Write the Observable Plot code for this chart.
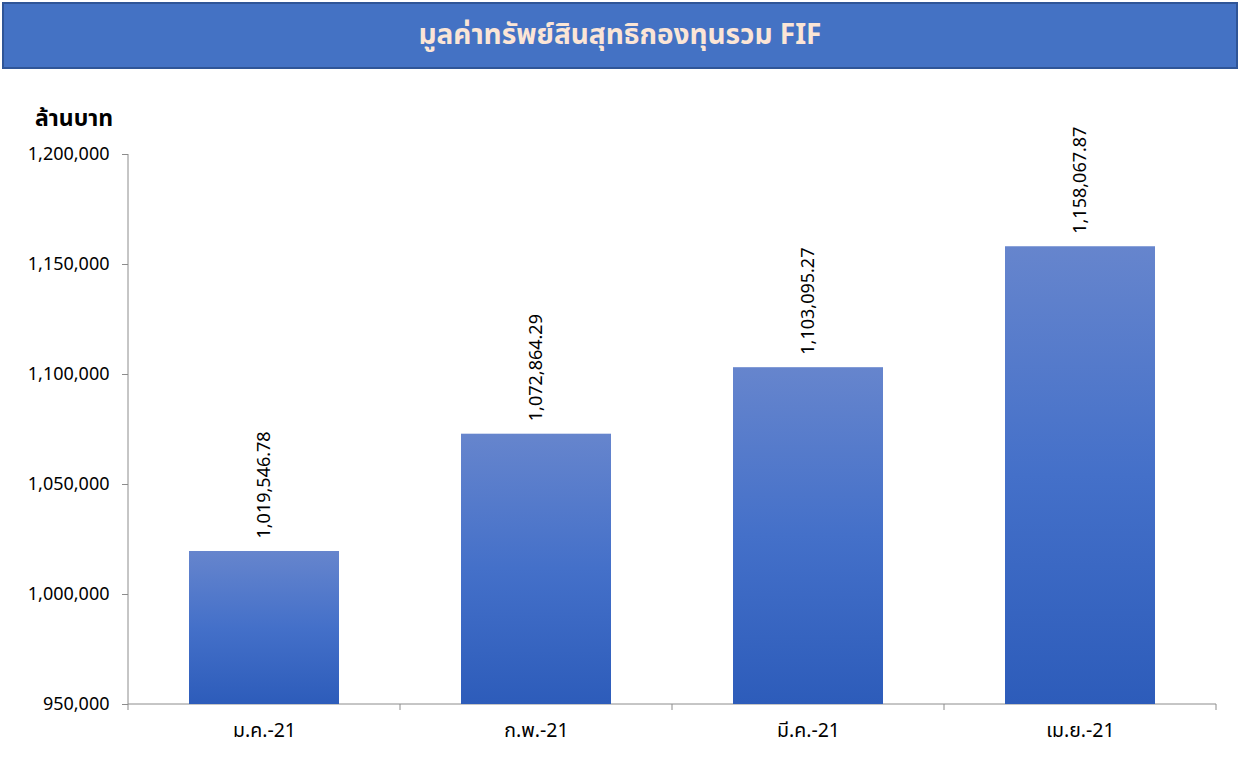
<!DOCTYPE html>
<html>
<head>
<meta charset="utf-8">
<script src="https://cdn.jsdelivr.net/npm/d3@7"></script>
<script src="https://cdn.jsdelivr.net/npm/@observablehq/plot@0.6"></script>
<style>
  html, body { margin: 0; padding: 0; background: #fff; }
  #wrap { position: relative; width: 1240px; height: 758px; font-family: Tahoma, "Noto Sans", "Noto Sans Thai", sans-serif; }
  #banner { position: absolute; left: 2px; top: 2px; width: 1232px; height: 63px; background: #4472C4; border: 2px solid #2F5597;
            color: #FBE5D6; font-weight: bold; font-size: 28px; display: flex; align-items: center; justify-content: center; }
  #unit { position: absolute; left: 35px; top: 101px; font-weight: bold; font-size: 23px; color: #000; }
  #chart { position: absolute; left: 0; top: 0; }
</style>
</head>
<body>
<div id="wrap">
  <div id="chart"></div>
  <div id="banner">มูลค่าทรัพย์สินสุทธิกองทุนรวม FIF</div>
  <div id="unit">ล้านบาท</div>
</div>
<script>
const months = ["ม.ค.-21", "ก.พ.-21", "มี.ค.-21", "เม.ย.-21"];
const values = [1019546.78, 1072864.29, 1103095.27, 1158067.87];
const yTicks = [950000, 1000000, 1050000, 1100000, 1150000, 1200000];
const yMin = 950000, yMax = 1200000;

const data = months.map((m, i) => ({m, v: values[i]}));
const fmtVal = d3.format(",.2f");
const fmtTick = d3.format(",");

function frameMarks(index, scales, vals, dim) {
  const g = d3.create("svg:g");
  const defs = g.append("defs");
  const lg = defs.append("linearGradient").attr("id", "barGrad")
    .attr("x1", 0).attr("y1", 0).attr("x2", 0).attr("y2", 1);
  lg.append("stop").attr("offset", "0%").attr("stop-color", "#6685CD");
  lg.append("stop").attr("offset", "50%").attr("stop-color", "#4470C9");
  lg.append("stop").attr("offset", "100%").attr("stop-color", "#2D5CBA");
  const left = dim.marginLeft, right = dim.width - dim.marginRight;
  const top = dim.marginTop, bottom = dim.height - dim.marginBottom;
  g.append("line").attr("x1", left).attr("x2", left).attr("y1", top).attr("y2", bottom)
    .attr("stroke", "#8c8c8c");
  g.append("line").attr("x1", left).attr("x2", right).attr("y1", bottom).attr("y2", bottom)
    .attr("stroke", "#8c8c8c");
  const step = (right - left) / months.length;
  for (let i = 0; i <= months.length; i++) {
    const x = left + i * step;
    g.append("line").attr("x1", x).attr("x2", x).attr("y1", bottom).attr("y2", bottom + 6)
      .attr("stroke", "#8c8c8c");
  }
  return g.node();
}

const chart = Plot.plot({
  width: 1240,
  height: 758,
  marginTop: 154,
  marginBottom: 54,
  marginLeft: 128,
  marginRight: 24,
  style: {fontFamily: 'Tahoma, "Noto Sans", "Noto Sans Thai", sans-serif', color: "#000", background: "transparent"},
  x: {domain: months, paddingInner: 0.45, paddingOuter: 0.225, axis: null},
  y: {domain: [yMin, yMax], axis: null},
  marks: [
    frameMarks,
    Plot.barY(data, {x: "m", y1: yMin, y2: "v", fill: "url(#barGrad)"}),
    Plot.axisY({ticks: yTicks, tickFormat: fmtTick, tickSize: 6, tickPadding: 13, fontSize: 18, stroke: "#8c8c8c", fill: "#000", label: null}),
    Plot.axisX({tickSize: 0, tickPadding: 19, fontSize: 19.5, fill: "#000", label: null}),
    Plot.text(data, {x: "m", y: "v", text: d => fmtVal(d.v), rotate: -90, textAnchor: "start", dy: -13, fontSize: 18, fill: "#000"})
  ]
});
document.getElementById("chart").appendChild(chart);
</script>
</body>
</html>
